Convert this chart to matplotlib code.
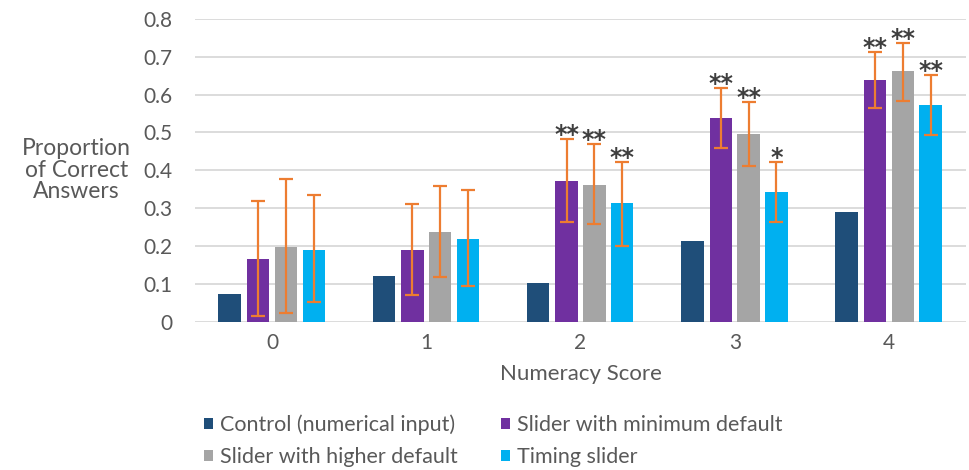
import numpy as np
import matplotlib.pyplot as plt

plt.rcParams['font.family'] = ['Lato', 'DejaVu Sans']

scores = ['0', '1', '2', '3', '4']
series = ['Control (numerical input)', 'Slider with minimum default',
          'Slider with higher default', 'Timing slider']
colors = ['#1f4e79', '#7030a0', '#a5a5a5', '#00b0f0']

control = [0.073, 0.120, 0.102, 0.214, 0.291]
slider_min = [0.167, 0.191, 0.373, 0.539, 0.638]
slider_high = [0.197, 0.237, 0.361, 0.497, 0.662]
timing = [0.191, 0.220, 0.314, 0.344, 0.573]

# confidence interval bounds (none for control)
min_lo = [0.017, 0.070, 0.265, 0.459, 0.565]
min_hi = [0.318, 0.312, 0.483, 0.617, 0.712]
high_lo = [0.024, 0.118, 0.258, 0.412, 0.583]
high_hi = [0.376, 0.359, 0.470, 0.581, 0.736]
timing_lo = [0.053, 0.094, 0.200, 0.265, 0.494]
timing_hi = [0.335, 0.347, 0.422, 0.423, 0.653]

# significance markers
min_sig = ['', '', '**', '**', '**']
high_sig = ['', '', '**', '**', '**']
timing_sig = ['', '', '**', '*', '**']

values = [control, slider_min, slider_high, timing]
lows = [None, min_lo, high_lo, timing_lo]
highs = [None, min_hi, high_hi, timing_hi]
sigs = [None, min_sig, high_sig, timing_sig]

fig = plt.figure(figsize=(9.7, 4.7), dpi=100)
ax = fig.add_axes([0.201, 0.315, 0.795, 0.645])

x = np.arange(len(scores))
offsets = [-0.275, -0.09, 0.09, 0.27]
width = 0.145
txt = '#595959'

ax.set_axisbelow(True)
ax.yaxis.grid(True, color='#d9d9d9', lw=1.3)
handles = []
for vals, lo, hi, sg, off, c, name in zip(values, lows, highs, sigs, offsets, colors, series):
    xs = x + off
    handles.append(ax.bar(xs, vals, width, color=c, label=name, zorder=2))
    if lo is None:
        continue
    v = np.array(vals)
    err = [v - np.array(lo), np.array(hi) - v]
    ax.errorbar(xs, v, yerr=err, fmt='none', ecolor='#ed7d31', elinewidth=1.6,
                capsize=5, capthick=1.6, zorder=3)
    for xi, h, s in zip(xs, hi, sg):
        if s:
            ax.text(xi, h - 0.022, s, ha='center', va='bottom', fontsize=17,
                    fontweight='bold', family='DejaVu Sans', color='#3f3f3f',
                    zorder=4)

ax.set_xlim(-0.5, 4.5)
ax.set_ylim(0, 0.8)
ax.set_yticks(np.arange(0, 0.81, 0.1))
ax.set_yticklabels(['0'] + ['%.1f' % v for v in np.arange(0.1, 0.81, 0.1)])
ax.set_xticks(x)
ax.set_xticklabels(scores)
ax.tick_params(length=0, labelsize=15, colors=txt, pad=8)
ax.tick_params(axis='y', pad=16)
for s in ax.spines.values():
    s.set_visible(False)

ax.set_xlabel('Numeracy Score', fontsize=16, color=txt, labelpad=8)
fig.text(0.079, 0.638, 'Proportion\nof Correct\nAnswers', ha='center', va='center',
         fontsize=16.5, color=txt, linespacing=1.05)

# legend fills row by row: control, minimum / higher, timing
order = [0, 2, 1, 3]
fig.legend([handles[i] for i in order], [series[i] for i in order],
           loc='lower left', bbox_to_anchor=(0.19, -0.035), ncol=2, frameon=False,
           fontsize=15.5, labelcolor=txt, handlelength=0.45, handleheight=0.45,
           handletextpad=0.3, columnspacing=2.0, labelspacing=0.55)

fig.savefig('out.png', dpi=100)
